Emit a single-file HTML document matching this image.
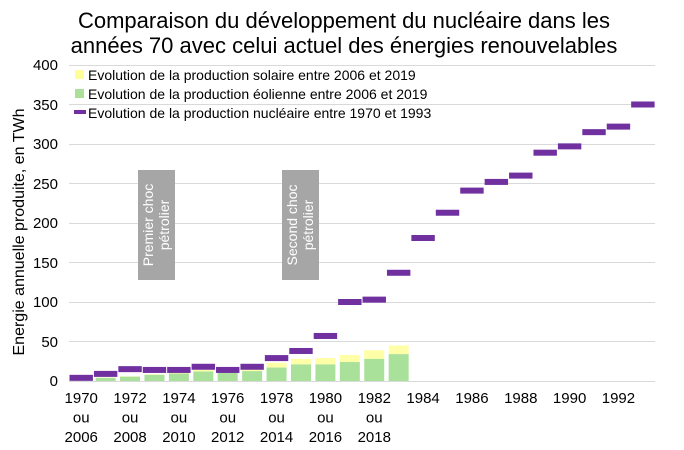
<!DOCTYPE html><html><head><meta charset="utf-8"><style>body{margin:0;background:#fff}svg{font-family:"Liberation Sans",sans-serif}</style></head><body>
<svg width="684" height="445" xmlns="http://www.w3.org/2000/svg">
<text x="344" y="28" font-size="22" text-anchor="middle" fill="#000">Comparaison du développement du nucléaire dans les</text>
<text x="344" y="53" font-size="22" text-anchor="middle" fill="#000">années 70 avec celui actuel des énergies renouvelables</text>
<g stroke="#d9d9d9" stroke-width="1">
<line x1="69" x2="655" y1="65.5" y2="65.5"/><line x1="69" x2="655" y1="104.5" y2="104.5"/><line x1="69" x2="655" y1="144.5" y2="144.5"/><line x1="69" x2="655" y1="183.5" y2="183.5"/><line x1="69" x2="655" y1="223.5" y2="223.5"/><line x1="69" x2="655" y1="262.5" y2="262.5"/><line x1="69" x2="655" y1="302.5" y2="302.5"/><line x1="69" x2="655" y1="341.5" y2="341.5"/><line x1="69" x2="655" y1="381.5" y2="381.5"/>
</g>
<g font-size="15" text-anchor="end" fill="#000">
<text x="58" y="70">400</text><text x="58" y="110">350</text><text x="58" y="149">300</text><text x="58" y="189">250</text><text x="58" y="228">200</text><text x="58" y="268">150</text><text x="58" y="307">100</text><text x="58" y="347">50</text><text x="58" y="386">0</text>
</g>
<text transform="translate(24,232) rotate(-90)" font-size="16" text-anchor="middle">Energie annuelle produite, en TWh</text>
<rect x="138" y="170" width="37" height="110" fill="#a6a6a6"/>
<rect x="282" y="170" width="37" height="110" fill="#a6a6a6"/>
<text transform="translate(153,225) rotate(-90)" font-size="14" fill="#fff" text-anchor="middle">Premier choc</text>
<text transform="translate(169,225) rotate(-90)" font-size="14" fill="#fff" text-anchor="middle">pétrolier</text>
<text transform="translate(297,225) rotate(-90)" font-size="14" fill="#fff" text-anchor="middle">Second choc</text>
<text transform="translate(313,225) rotate(-90)" font-size="14" fill="#fff" text-anchor="middle">pétrolier</text>
<g id="bars"></g>
<g id="nuc"></g>
<g font-size="15" text-anchor="middle" id="xl"></g>
<rect x="75" y="70" width="9" height="9" fill="#ffff99"/>
<text x="88" y="80" font-size="14">Evolution de la production solaire entre 2006 et 2019</text>
<rect x="75" y="89" width="9" height="9" fill="#a9e19a"/>
<text x="88" y="99" font-size="14">Evolution de la production éolienne entre 2006 et 2019</text>
<rect x="74" y="110" width="12" height="4" fill="#7030a0"/>
<text x="88" y="118" font-size="14">Evolution de la production nucléaire entre 1970 et 1993</text>
<script>
var x0=69,w=24.42,Y=v=>381-v*0.79,ns="http://www.w3.org/2000/svg";
function r(p,a){var e=document.createElementNS(ns,'rect');for(var k in a)e.setAttribute(k,a[k]);document.getElementById(p).appendChild(e);}
var nuc=[4,9,15,14,14,18,14,18,29,38,57,100,103,137,181,213,241,252,260,289,297,315,322,350];
var wind=[0,4,5.5,7.8,9.5,12,11,12.5,17,21,21,24,28,34],tot=[0,4.5,6,8.5,10.5,14,15,17,23,28,29,33,39,45];
for(var i=0;i<14;i++){var x=x0+i*w+2.2;r('bars',{x:x,y:Y(tot[i]),width:20,height:Y(wind[i])-Y(tot[i]),fill:'#ffffa8'});r('bars',{x:x,y:Y(wind[i]),width:20,height:381-Y(wind[i]),fill:'#a9e19a'});}
nuc.forEach((v,i)=>r('nuc',{x:x0+i*w+0.5,y:Y(v)-3,width:w-1,height:6,fill:'#7030a0'}));
var xl=document.getElementById('xl');
for(var i=0;i<24;i+=2){var cx=x0+i*w+w/2;var t=[1970+i];if(i<14){t.push('ou');t.push(2006+i);}t.forEach((s,j)=>{var e=document.createElementNS(ns,'text');e.setAttribute('x',cx);e.setAttribute('y',403+j*19.5);e.textContent=s;xl.appendChild(e);});}
</script>
</svg></body></html>
